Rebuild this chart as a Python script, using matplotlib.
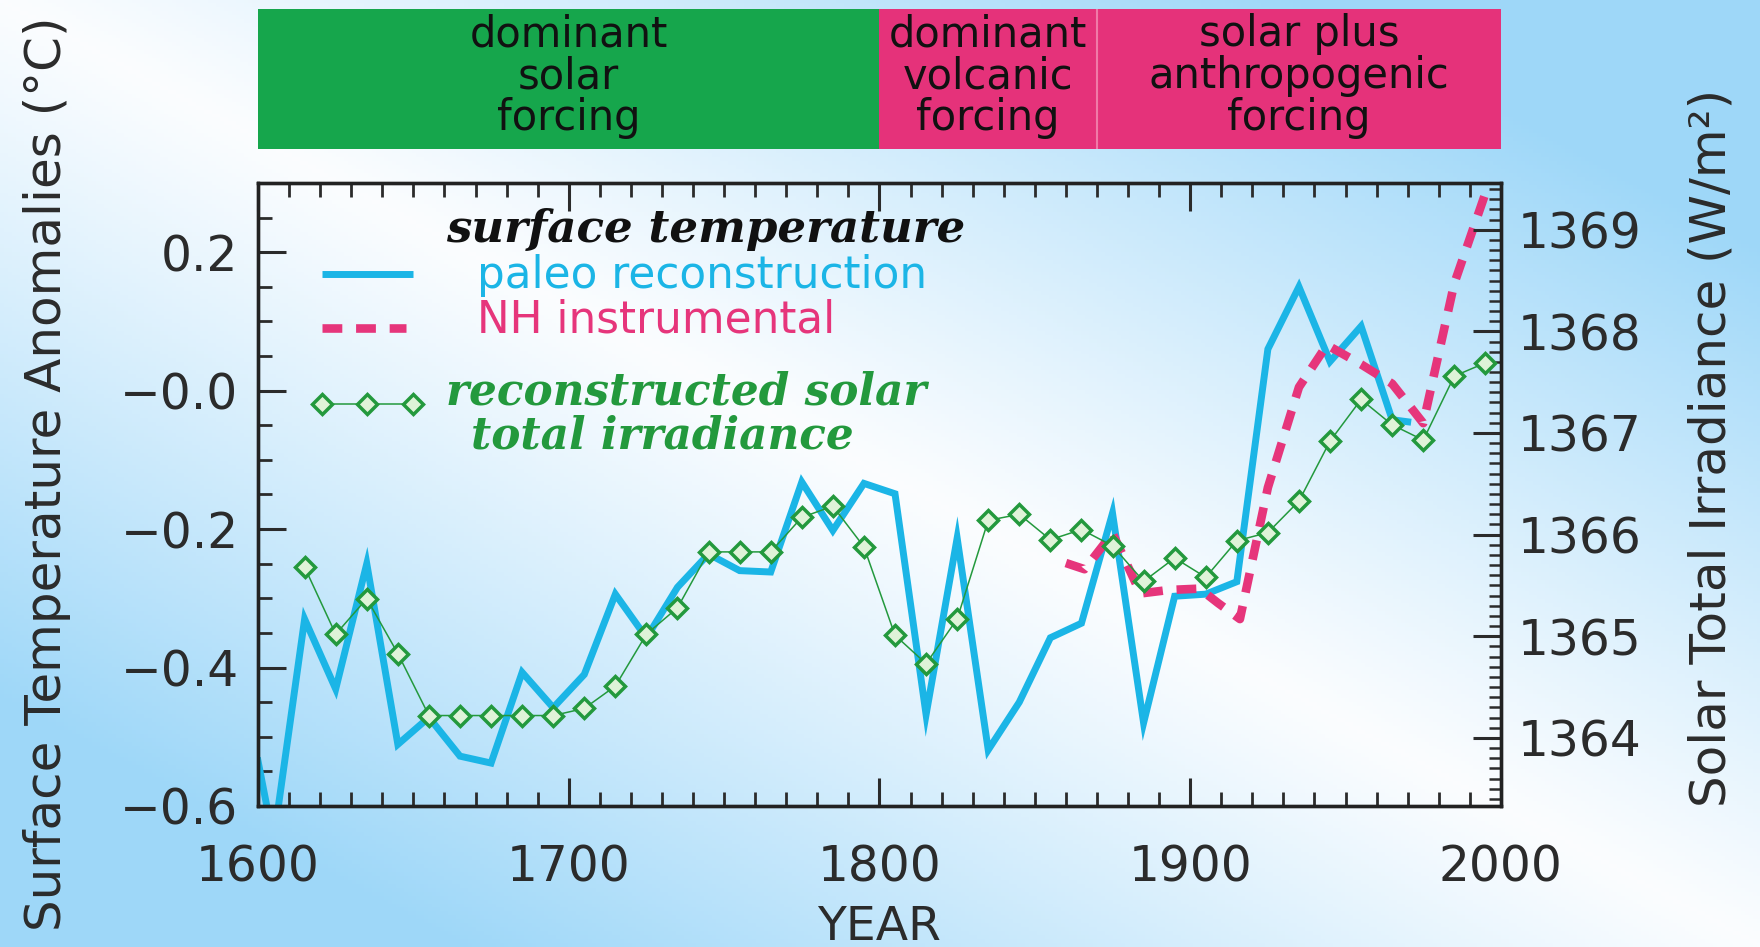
import numpy as np
import matplotlib
matplotlib.use("Agg")
import matplotlib.pyplot as plt
from matplotlib.ticker import MultipleLocator, FixedLocator, FixedFormatter

# ---------------- data ----------------
paleo_years = [1600, 1605, 1615, 1625, 1635, 1645, 1655, 1665, 1675, 1685, 1695,
               1705, 1715, 1725, 1735, 1745, 1755, 1765, 1775, 1785, 1795,
               1805, 1815, 1825, 1835, 1845, 1855, 1865, 1875, 1885, 1895,
               1905, 1915, 1925, 1935, 1945, 1955, 1965, 1970]
paleo_temp = [-0.535, -0.65, -0.33, -0.431, -0.25, -0.511, -0.472, -0.528, -0.538, -0.407, -0.458,
              -0.41, -0.294, -0.357, -0.284, -0.236, -0.26, -0.262, -0.132, -0.202, -0.134,
              -0.149, -0.468, -0.213, -0.519, -0.45, -0.357, -0.336, -0.177, -0.48, -0.297,
              -0.294, -0.276, 0.06, 0.15, 0.042, 0.093, -0.042, -0.045]

nh_years = [1860, 1866, 1875, 1884, 1893, 1903, 1909, 1916, 1925, 1935, 1944,
            1955, 1965, 1975, 1985, 1995]
nh_temp = [-0.249, -0.258, -0.206, -0.293, -0.288, -0.286, -0.307, -0.33, -0.14, 0.005, 0.066,
           0.038, 0.01, -0.047, 0.155, 0.285]

solar_years = [1615, 1625, 1635, 1645, 1655, 1665, 1675, 1685, 1695, 1705,
               1715, 1725, 1735, 1745, 1755, 1765, 1775, 1785, 1795, 1805,
               1815, 1825, 1835, 1845, 1855, 1865, 1875, 1885, 1895, 1905,
               1915, 1925, 1935, 1945, 1955, 1965, 1975, 1985, 1995]
solar_tsi = [1365.68, 1365.02, 1365.37, 1364.83, 1364.22, 1364.22, 1364.22, 1364.22, 1364.22, 1364.29,
             1364.51, 1365.02, 1365.28, 1365.83, 1365.83, 1365.83, 1366.17, 1366.28, 1365.88, 1365.01,
             1364.73, 1365.17, 1366.14, 1366.2, 1365.95, 1366.05, 1365.89, 1365.54, 1365.77, 1365.58,
             1365.94, 1366.02, 1366.33, 1366.92, 1367.33, 1367.08, 1366.93, 1367.56, 1367.69]

year_ticks = [1600, 1700, 1800, 1900, 2000]
year_tick_labels = ["1600", "1700", "1800", "1900", "2000"]
temp_ticks = [0.2, 0.0, -0.2, -0.4, -0.6]
temp_tick_labels = ["0.2", "\u22120.0", "\u22120.2", "\u22120.4", "\u22120.6"]
tsi_ticks = [1364, 1365, 1366, 1367, 1368, 1369]
tsi_tick_labels = ["1364", "1365", "1366", "1367", "1368", "1369"]

band_starts = [1600, 1800, 1870]
band_ends = [1800, 1870, 2000]
band_labels = ["dominant\nsolar\nforcing",
               "dominant\nvolcanic\nforcing",
               "solar plus\nanthropogenic\nforcing"]

# ---------------- style ----------------
BLUE = "#1bb5e6"
MAGENTA = "#e6357b"
GREEN = "#23993d"
BAND_GREEN = "#16a64c"
BAND_MAGENTA = "#e5327a"
band_colors = [BAND_GREEN, BAND_MAGENTA, BAND_MAGENTA]
TXT = "#2b2b2b"

plt.rcParams["font.family"] = ["DejaVu Sans"]

fig = plt.figure(figsize=(17.6, 9.47), dpi=100)

# background gradient
bg = fig.add_axes([0, 0, 1, 1], zorder=-10)
Hh, Ww = 240, 440
u = np.linspace(0, 1, Ww)[None, :]
v = np.linspace(0, 1, Hh)[:, None]
t = np.clip(np.abs(u - v) * 1.35, 0, 1) ** 1.1
white = np.array([0.985, 0.992, 1.0])
lblue = np.array([0.62, 0.845, 0.975])
img = white[None, None, :] * (1 - t[..., None]) + lblue[None, None, :] * t[..., None]
bg.imshow(img, aspect="auto", extent=[0, 1, 0, 1], origin="upper")
bg.axis("off")

# main axes
ax = fig.add_axes([0.1466, 0.1489, 0.7062, 0.6579])
ax.patch.set_visible(False)
ax2 = ax.twinx()
ax2.patch.set_visible(False)

ax.plot(paleo_years, paleo_temp, color=BLUE, lw=5, solid_joinstyle="miter", zorder=2)
ax.plot(nh_years, nh_temp, color=MAGENTA, lw=6.2, ls=(0, (2.3, 1.6)),
        dash_capstyle="butt", zorder=3)
ax2.plot(solar_years, solar_tsi, color=GREEN, lw=1.1, marker="D", ms=10,
         mfc="#dff3d8", mec=GREEN, mew=2.5, zorder=4)

ax.set_xlim(1600, 2000)
ax.set_ylim(-0.6, 0.3)
ax2.set_ylim(1363.33, 1369.46)

ax.xaxis.set_major_locator(FixedLocator(year_ticks))
ax.xaxis.set_major_formatter(FixedFormatter(year_tick_labels))
ax.xaxis.set_minor_locator(MultipleLocator(10))
ax.yaxis.set_major_locator(FixedLocator(temp_ticks))
ax.yaxis.set_major_formatter(FixedFormatter(temp_tick_labels))
ax.yaxis.set_minor_locator(MultipleLocator(0.05))
ax2.yaxis.set_major_locator(FixedLocator(tsi_ticks))
ax2.yaxis.set_major_formatter(FixedFormatter(tsi_tick_labels))
ax2.yaxis.set_minor_locator(MultipleLocator(0.1))

ax.tick_params(axis="x", which="major", direction="in", length=20, width=2.2,
               top=True, bottom=True, labelsize=35, pad=27, colors=TXT)
ax.tick_params(axis="x", which="minor", direction="in", length=10, width=2.0,
               top=True, bottom=True, colors=TXT)
ax.tick_params(axis="y", which="major", direction="in", length=20, width=2.2,
               left=True, right=False, labelsize=35, pad=14, colors=TXT)
ax.tick_params(axis="y", which="minor", direction="in", length=10, width=2.0,
               left=True, right=False, colors=TXT)
ax2.tick_params(axis="y", which="major", direction="in", length=20, width=2.2,
                left=False, right=True, labelsize=35, pad=12, colors=TXT)
ax2.tick_params(axis="y", which="minor", direction="in", length=9, width=1.8,
                left=False, right=True, colors=TXT)

for a in (ax, ax2):
    for s in a.spines.values():
        s.set_linewidth(2.4)
        s.set_color("#222222")

# axis labels
fig.text(0.0267, 0.4995, "Surface Temperature Anomalies (\u00b0C)", rotation=90,
         ha="center", va="center", fontsize=36, color=TXT)
fig.text(0.9727, 0.527, "Solar Total Irradiance (W/m\u00b2)", rotation=90,
         ha="center", va="center", fontsize=36, color=TXT)
fig.text(0.4994, 0.021, "YEAR", ha="center", va="center", fontsize=34, color=TXT)

# legend (manual, inside the axes)
ax.text(0.151, 0.926, "surface temperature", transform=ax.transAxes,
        family="DejaVu Serif", style="italic", weight="bold", fontsize=32.5,
        ha="left", va="center", color="#111111")
ax.plot([0.0515, 0.1247], [0.854, 0.854], transform=ax.transAxes,
        color=BLUE, lw=5, solid_capstyle="butt")
ax.text(0.176, 0.852, "paleo reconstruction", transform=ax.transAxes,
        fontsize=31.5, ha="left", va="center", color=BLUE)
ax.plot([0.0515, 0.119], [0.767, 0.767], transform=ax.transAxes,
        color=MAGENTA, lw=6.2, ls=(0, (2.3, 1.6)), dash_capstyle="butt")
ax.text(0.176, 0.78, "NH instrumental", transform=ax.transAxes,
        fontsize=31.5, ha="left", va="center", color=MAGENTA)
ax2.plot([0.0515, 0.0877, 0.1247], [0.645, 0.645, 0.645], transform=ax2.transAxes,
         color=GREEN, lw=1.1, marker="D", ms=10, mfc="#dff3d8", mec=GREEN, mew=2.5)
ax2.text(0.151, 0.664, "reconstructed solar", transform=ax2.transAxes,
         family="DejaVu Serif", style="italic", weight="bold", fontsize=31.5,
         ha="left", va="center", color=GREEN)
ax2.text(0.171, 0.594, "total irradiance", transform=ax2.transAxes,
         family="DejaVu Serif", style="italic", weight="bold", fontsize=31.5,
         ha="left", va="center", color=GREEN)

# forcing band on top
axb = fig.add_axes([0.1466, 0.8427, 0.7062, 0.1478])
axb.set_xlim(1600, 2000)
axb.set_ylim(0, 1)
axb.axis("off")
for s, e, c, lab in zip(band_starts, band_ends, band_colors, band_labels):
    axb.axvspan(s, e, color=c, lw=0)
    axb.text((s + e) / 2, 0.52, lab, ha="center", va="center", fontsize=30,
             linespacing=1.0, color="#111111")
axb.axvline(band_starts[2], color="#f07aa8", lw=1.5)

fig.savefig("out.png", dpi=100)
